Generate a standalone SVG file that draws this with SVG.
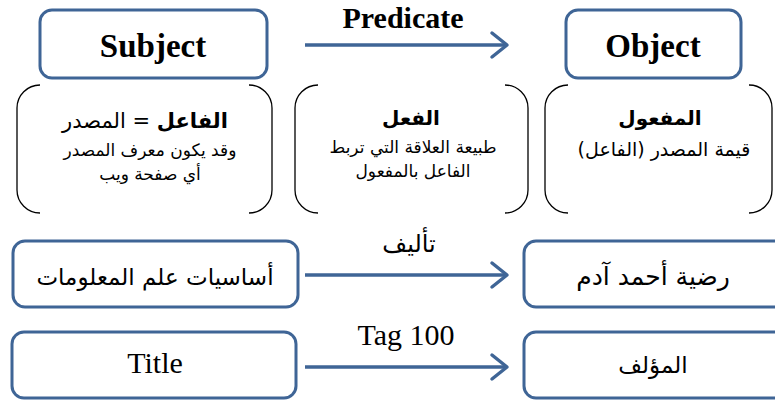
<svg xmlns="http://www.w3.org/2000/svg" width="775" height="403" viewBox="0 0 775 403">
<defs>
<style>
.box{fill:#fff;stroke:#3F6596;stroke-width:3}
.br{fill:none;stroke:#000;stroke-width:1.3}
.conn{fill:none;stroke:#3F6596;stroke-width:3.5}
.head{fill:none;stroke:#3F6596;stroke-width:3.5;stroke-linecap:round;stroke-linejoin:round}
.en{font-family:"Liberation Serif","Times New Roman",serif;fill:#000;text-anchor:middle}
.enb{font-family:"Liberation Serif","Times New Roman",serif;font-weight:bold;fill:#000;text-anchor:middle}
.ar{font-family:"DejaVu Sans","Noto Sans",sans-serif;fill:#000;text-anchor:middle}
</style>
</defs>
<g id="connectors">
<line class="conn" x1="305" y1="45" x2="507" y2="45"/>
<polyline class="head" points="492,33 507,45 492,57"/>
<line class="conn" x1="305" y1="275" x2="507" y2="275"/>
<polyline class="head" points="492,263 507,275 492,287"/>
<line class="conn" x1="305" y1="367" x2="507" y2="367"/>
<polyline class="head" points="492,355 507,367 492,379"/>
<text class="enb" x="403" y="28" font-size="30">Predicate</text>
<text class="ar" x="409" y="252" font-size="24" direction="rtl">تأليف</text>
<text class="en" x="406" y="345" font-size="30">Tag 100</text>
</g>
<g id="subject">
<rect class="box" x="40" y="10" width="227" height="68" rx="12"/>
<text class="enb" x="153" y="57" font-size="33">Subject</text>
</g>
<g id="object">
<rect class="box" x="566" y="10" width="175" height="68" rx="12"/>
<text class="enb" x="653" y="57" font-size="33">Object</text>
</g>
<g id="subject-note">
<path class="br" d="M40,85 A23,23 0 0 0 17,108 L17,190 A23,23 0 0 0 40,213"/>
<path class="br" d="M249,85 A23,23 0 0 1 272,108 L272,190 A23,23 0 0 1 249,213"/>
<text class="ar" x="145" y="128" font-size="21" direction="rtl"><tspan font-weight="bold">الفاعل</tspan> = المصدر</text>
<text class="ar" x="150" y="156" font-size="17" direction="rtl">وقد يكون معرف المصدر</text>
<text class="ar" x="150" y="180" font-size="17" direction="rtl">أي صفحة ويب</text>
</g>
<g id="predicate-note">
<path class="br" d="M318,85 A23,23 0 0 0 295,108 L295,190 A23,23 0 0 0 318,213"/>
<path class="br" d="M505,85 A23,23 0 0 1 528,108 L528,190 A23,23 0 0 1 505,213"/>
<text class="ar" x="411" y="125" font-size="20" font-weight="bold" direction="rtl">الفعل</text>
<text class="ar" x="413" y="153" font-size="17" direction="rtl">طبيعة العلاقة التي تربط</text>
<text class="ar" x="413" y="177" font-size="17" direction="rtl">الفاعل بالمفعول</text>
</g>
<g id="object-note">
<path class="br" d="M568,85 A23,23 0 0 0 545,108 L545,190 A23,23 0 0 0 568,213"/>
<path class="br" d="M749,85 A23,23 0 0 1 772,108 L772,190 A23,23 0 0 1 749,213"/>
<text class="ar" x="660" y="125" font-size="20" font-weight="bold" direction="rtl">المفعول</text>
<text class="ar" x="664" y="156" font-size="19" direction="rtl">قيمة المصدر (الفاعل)</text>
</g>
<g id="book-title">
<rect class="box" x="13" y="241" width="285" height="66" rx="12"/>
<text class="ar" x="155" y="285" font-size="23" direction="rtl">أساسيات علم المعلومات</text>
</g>
<g id="author-name">
<rect class="box" x="524" y="241" width="265" height="66" rx="12"/>
<text class="ar" x="653" y="285" font-size="25" direction="rtl">رضية أحمد آدم</text>
</g>
<g id="title">
<rect class="box" x="12" y="332" width="284" height="66" rx="12"/>
<text class="en" x="155" y="373" font-size="30">Title</text>
</g>
<g id="author">
<rect class="box" x="524" y="332" width="265" height="66" rx="12"/>
<text class="ar" x="653" y="373" font-size="23" direction="rtl">المؤلف</text>
</g>
</svg>
